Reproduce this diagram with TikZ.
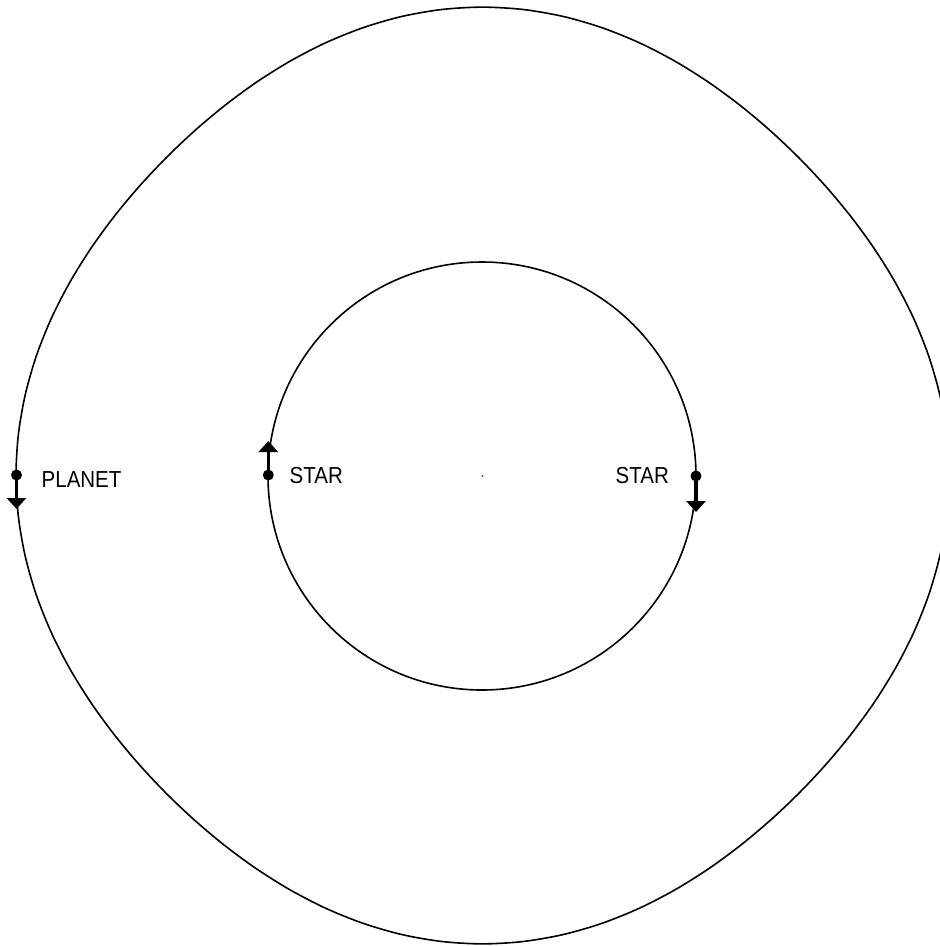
\documentclass[tikz,border=0pt]{standalone}
\usepackage{fontspec}
\setmainfont{Liberation Sans}
\usetikzlibrary{arrows.meta}
\tikzset{
  orbitline/.style={line width=1.6pt, black},
  dotnode/.style={circle, fill=black, inner sep=0pt, minimum size=11pt},
  vec/.style={line width=3.5pt, -{Triangle[width=19pt,length=11pt]}},
  lbl/.style={inner sep=0pt, font=\fontsize{20.5}{24}\selectfont},
}
\newcommand{\tall}[1]{\scalebox{1}[1.13]{#1}}
\begin{document}
\begin{tikzpicture}[x=1pt, y=-1pt]
\useasboundingbox (0,0) rectangle (940,946);
% outer (planet) orbit, r = 457 + 9.5 cos(4t) about the barycentre
\draw[orbitline] plot[smooth cycle] coordinates {
  (949.0,475.5) (946.65,516.27) (939.73,556.44) (928.52,595.49) (913.49,633.00)
  (895.19,668.71) (874.16,702.53) (850.89,734.48) (825.74,764.66) (798.93,793.20)
  (770.51,820.11) (740.45,845.36) (708.63,868.73) (674.94,889.84) (639.37,908.21)
  (602.01,923.30) (563.12,934.56) (523.11,941.51) (482.5,943.87)
  (441.89,941.51) (401.88,934.56) (362.99,923.30) (325.63,908.21) (290.06,889.84)
  (256.37,868.73) (224.55,845.36) (194.49,820.11) (166.07,793.20) (139.26,764.66)
  (114.11,734.48) (90.84,702.53) (69.81,668.71) (51.51,633.00) (36.48,595.49)
  (25.27,556.44) (18.35,516.27) (16.0,475.5)
  (18.35,434.73) (25.27,394.56) (36.48,355.51) (51.51,318.00) (69.81,282.29)
  (90.84,248.47) (114.11,216.52) (139.26,186.34) (166.07,157.80) (194.49,130.89)
  (224.55,105.64) (256.37,82.27) (290.06,61.16) (325.63,42.79) (362.99,27.70)
  (401.88,16.44) (441.89,9.49) (482.5,7.13)
  (523.11,9.49) (563.12,16.44) (602.01,27.70) (639.37,42.79) (674.94,61.16)
  (708.63,82.27) (740.45,105.64) (770.51,130.89) (798.93,157.80) (825.74,186.34)
  (850.89,216.52) (874.16,248.47) (895.19,282.29) (913.49,318.00) (928.52,355.51)
  (939.73,394.56) (946.65,434.73)};
% inner (binary star) orbit
\node[circle, draw, orbitline, minimum size=428pt, inner sep=0pt] (inner) at (482,476) {};
% centre of mass
\node[circle, fill=black!80, inner sep=0pt, minimum size=2pt] (cm) at (482.5,476) {};
% bodies
\node[dotnode] (planet) at (16.5,475) {};
\node[dotnode] (starL) at (268.3,475) {};
\node[dotnode] (starR) at (696,476) {};
% velocity arrows
\coordinate (planettip) at (16.5,509);
\coordinate (starLtip) at (268.3,441);
\coordinate (starRtip) at (696,512);
\draw[vec] (planet.center) -- (planettip);
\draw[vec] (starL.center) -- (starLtip);
\draw[vec] (starR.center) -- (starRtip);
% labels
\node[lbl, anchor=base west] (planetlbl) at (41.5,487) {\tall{PLANET}};
\node[lbl, anchor=base west] (starLlbl) at (289.5,483.3) {\tall{STAR}};
\node[lbl, anchor=base east] (starRlbl) at (669,483.3) {\tall{STAR}};
\end{tikzpicture}
\end{document}
